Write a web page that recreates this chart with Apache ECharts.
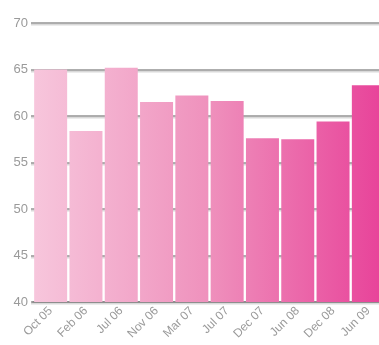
<!DOCTYPE html>
<html>
<head>
<meta charset="utf-8">
<script src="https://cdn.jsdelivr.net/npm/echarts@6/dist/echarts.min.js"></script>
<style>
  html, body { margin: 0; padding: 0; background: #fff; }
  #chart { width: 379px; height: 345px; }
</style>
</head>
<body>
<div id="chart"></div>
<script>
// Monthly readings, Oct 2005 to Jun 2009
var categories = ['Oct 05', 'Feb 06', 'Jul 06', 'Nov 06', 'Mar 07', 'Jul 07', 'Dec 07', 'Jun 08', 'Dec 08', 'Jun 09'];
var values = [65.0, 58.4, 65.2, 61.5, 62.2, 61.6, 57.6, 57.5, 59.4, 63.3];
var yTicks = [40, 45, 50, 55, 60, 65, 70];

var chart = echarts.init(document.getElementById('chart'), null, { renderer: 'canvas' });

// one horizontal gradient running across the whole row of bars
var barFill = {
  type: 'linear', x: 33, y: 0, x2: 379, y2: 0, global: true,
  colorStops: [
    { offset: 0, color: '#f7c6dc' },
    { offset: 0.5, color: '#ef92bd' },
    { offset: 1, color: '#e8449a' }
  ]
};

// grey rule with a faint lighter line just beneath it
var gridLine = {
  color: '#939393', width: 1.6,
  shadowColor: 'rgba(0,0,0,0.15)', shadowOffsetY: 1.6, shadowBlur: 0
};

chart.setOption({
  animation: false,
  grid: {
    left: 33, top: 23, width: 353, bottom: 43,
    containLabel: false, outerBoundsMode: 'none'
  },
  xAxis: {
    type: 'category',
    data: categories,
    axisLine: { show: true, lineStyle: { color: '#8e8e8e', width: 2 } },
    axisTick: { show: false },
    axisLabel: {
      rotate: 45, color: '#9a9a9a', fontSize: 12,
      fontFamily: 'Liberation Sans, Arial, sans-serif', margin: 7
    }
  },
  yAxis: {
    type: 'value',
    min: yTicks[0], max: yTicks[yTicks.length - 1], interval: 5,
    axisLine: { show: false },
    axisTick: { show: true, length: 2, lineStyle: gridLine },
    axisLabel: {
      color: '#9a9a9a', fontSize: 13, margin: 5,
      fontFamily: 'Liberation Sans, Arial, sans-serif'
    },
    splitLine: { show: true, lineStyle: gridLine }
  },
  series: [{
    type: 'bar',
    data: values,
    barWidth: 33,
    itemStyle: { color: barFill }
  }]
});
</script>
</body>
</html>
